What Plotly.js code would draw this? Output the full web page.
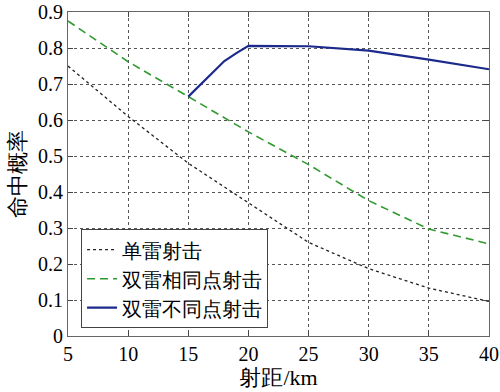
<!DOCTYPE html>
<html><head><meta charset="utf-8">
<script src="https://cdn.plot.ly/plotly-3.0.1.min.js"></script>
<style>html,body{margin:0;padding:0;background:#fff}</style>
</head><body><div id="c" style="width:500px;height:392px"></div>
<script>
const names = ["单雷射击", "双雷相同点射击", "双雷不同点射击"];
const xSingle = [5, 10, 15, 20, 25, 30, 35, 40];
const ySingle = [0.75, 0.61, 0.48, 0.37, 0.26, 0.187, 0.133, 0.096];
const xSame = [5, 10, 15, 20, 25, 30, 35, 40];
const ySame = [0.875, 0.762, 0.665, 0.567, 0.476, 0.376, 0.297, 0.256];
const xDiff = [15, 16, 17, 18, 19, 20, 25, 30, 35, 40];
const yDiff = [0.665, 0.698, 0.731, 0.764, 0.786, 0.806, 0.805, 0.793, 0.768, 0.741];
const xTicks = [5, 10, 15, 20, 25, 30, 35, 40];
const yTicks = [0, 0.1, 0.2, 0.3, 0.4, 0.5, 0.6, 0.7, 0.8, 0.9];

const FONT = 'Liberation Serif';
const tickf = {family: FONT, size: 20, color: '#000'};
const legf = {family: FONT, size: 20, color: '#000'};
const titf = {family: FONT, size: 22, color: '#000'};
const traces = [
  {x: xSingle, y: ySingle, name: names[0], mode: 'lines',
   line: {color: '#222', width: 1.3, dash: 'dot'}},
  {x: xSame, y: ySame, name: names[1], mode: 'lines',
   line: {color: '#2f9a2f', width: 1.6, dash: '8px,5px'}},
  {x: xDiff, y: yDiff, name: names[2], mode: 'lines',
   line: {color: '#1c2a8c', width: 2.2}}
];
const axBase = {
  showline: true, mirror: 'ticks', linecolor: '#666', linewidth: 1,
  ticks: 'inside', ticklen: 5, tickcolor: '#444',
  showgrid: true, gridcolor: '#555', griddash: 'dot', gridwidth: 1, zeroline: false,
  tickmode: 'array', tickfont: tickf, ticklabeloverflow: 'allow'
};
const layout = {
  width: 500, height: 392,
  margin: {l: 68, r: 11, t: 12, b: 56},
  paper_bgcolor: '#fff', plot_bgcolor: '#fff',
  font: legf,
  showlegend: true,
  legend: {x: 0.031, y: 0.024, xanchor: 'left', yanchor: 'bottom',
    bgcolor: '#fff', bordercolor: '#444', borderwidth: 1,
    font: legf, tracegroupgap: 0, itemwidth: 30},
  xaxis: Object.assign({}, axBase, {range: [5, 40], tickvals: xTicks,
    ticktext: xTicks.map(String),
    title: {text: '射距/km', font: titf, standoff: 4}}),
  yaxis: Object.assign({}, axBase, {range: [0, 0.9001], tickvals: yTicks,
    ticktext: yTicks.map(v => v === 0 ? '0' : v.toFixed(1)),
    title: {text: '命中概率', font: titf, standoff: 6}})
};
Plotly.newPlot('c', traces, layout, {displayModeBar: false, staticPlot: true});
</script></body></html>
